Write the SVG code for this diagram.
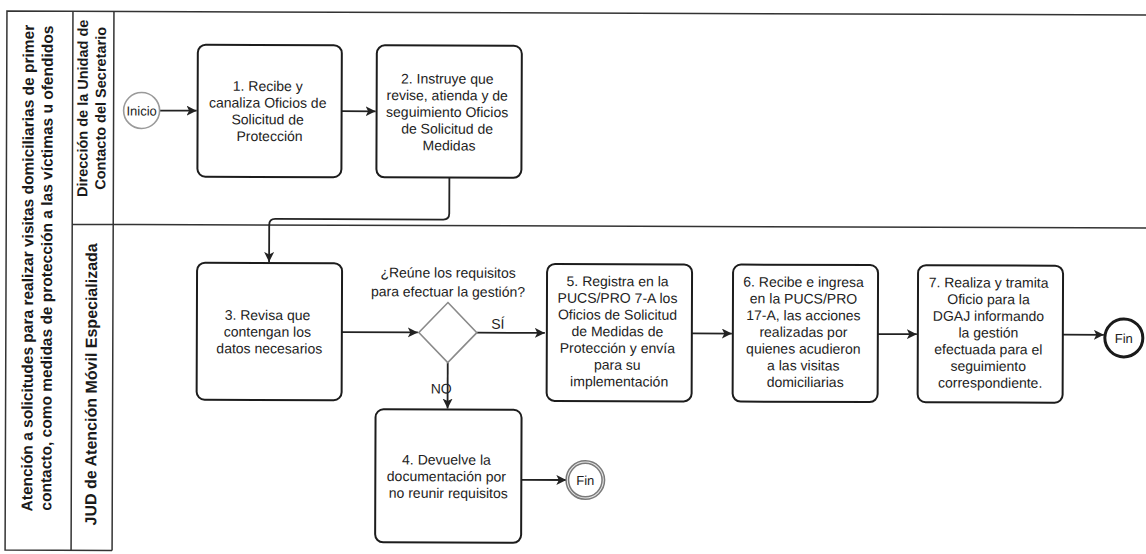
<svg xmlns="http://www.w3.org/2000/svg" width="1146" height="554" viewBox="0 0 1146 554">
  <style>
    .frame { fill: none; stroke: #333; stroke-width: 1.5; }
    .task { fill: #fff; stroke: #1c1c1c; stroke-width: 2; }
    .gate { fill: #fff; stroke: #8a8a8a; stroke-width: 1.6; }
    .flow { fill: none; stroke: #222; stroke-width: 1.8; }
    .txt { font-family: "Liberation Sans", Arial, sans-serif; font-size: 14px; fill: #222; text-anchor: middle; }
    .lbl { font-family: "Liberation Sans", Arial, sans-serif; font-size: 14px; font-weight: bold; fill: #1a1a1a; text-anchor: middle; }
    .ev { font-family: "Liberation Sans", Arial, sans-serif; font-size: 13px; fill: #222; text-anchor: middle; }
  </style>
  <defs>
    <marker id="arrow" markerUnits="userSpaceOnUse" markerWidth="12" markerHeight="12" refX="10" refY="5" orient="auto">
      <path d="M0,0 L10,5 L0,10 L2.5,5 z" fill="#222"/>
    </marker>
  </defs>
  <rect width="1146" height="554" fill="#fff"/>

  <g transform="rotate(0.2)">
    <!-- pool and lane frame -->
    <g id="pool">
      <path class="frame" d="M1150,11 H7 V550 H114"/>
      <path class="frame" d="M73,11 V550 M114,11 V550 M73,224 H1150"/>
      <text class="lbl" style="font-size:15.5px" transform="translate(34,268) rotate(-90)">Atención a solicitudes para realizar visitas domiciliarias de primer</text>
      <text class="lbl" style="font-size:15.5px" transform="translate(53,268) rotate(-90)">contacto, como medidas de protección a las víctimas u ofendidos</text>
    </g>
    <g id="lane-direccion">
      <text class="lbl" style="font-size:14.5px" transform="translate(88,108) rotate(-90)">Dirección de la Unidad de</text>
      <text class="lbl" style="font-size:14.5px" transform="translate(106,108) rotate(-90)">Contacto del Secretario</text>
    </g>
    <g id="lane-jud">
      <text class="lbl" style="font-size:16px" transform="translate(98,384) rotate(-90)">JUD de Atención Móvil Especializada</text>
    </g>

    <!-- connectors -->
    <g id="connectors">
      <path class="flow" d="M160,110 H197" marker-end="url(#arrow)"/>
      <path class="flow" d="M342,110 H376" marker-end="url(#arrow)"/>
      <path class="flow" d="M450,176 V212 Q450,218 444,218 H276 Q270,218 270,224 V261" marker-end="url(#arrow)"/>
      <path class="flow" d="M343,331 H419" marker-end="url(#arrow)"/>
      <path class="flow" d="M478,331 H546" marker-end="url(#arrow)"/>
      <path class="flow" d="M449,361 V407" marker-end="url(#arrow)"/>
      <path class="flow" d="M523,478 H568" marker-end="url(#arrow)"/>
      <path class="flow" d="M693,331 H733" marker-end="url(#arrow)"/>
      <path class="flow" d="M879,331 H918" marker-end="url(#arrow)"/>
      <path class="flow" d="M1064,331 H1105" marker-end="url(#arrow)"/>
      <text class="txt" x="499" y="327">SÍ</text>
      <text class="txt" x="453" y="392" style="text-anchor:end">NO</text>
    </g>

    <!-- start event -->
    <g id="inicio">
      <circle cx="142" cy="110" r="18" fill="#fff" stroke="#9a9a9a" stroke-width="1.6"/>
      <text class="ev" x="142" y="115">Inicio</text>
    </g>

    <g id="task-1">
      <rect class="task" x="198" y="44" width="144" height="132" rx="8"/>
      <text class="txt" y="90">
        <tspan x="270">1. Recibe y</tspan>
        <tspan x="270" dy="16.7">canaliza Oficios de</tspan>
        <tspan x="270" dy="16.7">Solicitud de</tspan>
        <tspan x="270" dy="16.7">Protección</tspan>
      </text>
    </g>

    <g id="task-2">
      <rect class="task" x="377" y="44" width="145" height="132" rx="8"/>
      <text class="txt" y="82">
        <tspan x="449.5">2. Instruye que</tspan>
        <tspan x="449.5" dy="16.7">revise, atienda y de</tspan>
        <tspan x="449.5" dy="16.7">seguimiento Oficios</tspan>
        <tspan x="449.5" dy="16.7">de Solicitud de</tspan>
        <tspan x="449.5" dy="16.7">Medidas</tspan>
      </text>
    </g>

    <g id="task-3">
      <rect class="task" x="198" y="262" width="145" height="137" rx="8"/>
      <text class="txt" y="319">
        <tspan x="270.5">3. Revisa que</tspan>
        <tspan x="270.5" dy="16.7">contengan los</tspan>
        <tspan x="270.5" dy="16.7">datos necesarios</tspan>
      </text>
    </g>

    <g id="gateway">
      <text class="txt" y="276">
        <tspan x="451">¿Reúne los requisitos</tspan>
        <tspan x="449" dy="19">para efectuar la gestión?</tspan>
      </text>
      <path class="gate" d="M449,301 L478,331 L449,361 L420,331 z"/>
    </g>

    <g id="task-4">
      <rect class="task" x="377" y="408" width="146" height="133" rx="8"/>
      <text class="txt" y="463">
        <tspan x="450">4. Devuelve la</tspan>
        <tspan x="450" dy="16.7">documentación por</tspan>
        <tspan x="450" dy="16.7">no reunir requisitos</tspan>
      </text>
    </g>

    <g id="fin-1">
      <circle cx="587" cy="478" r="18" fill="#fff" stroke="#7a7a7a" stroke-width="4"/>
      <circle cx="587" cy="478" r="18" fill="none" stroke="#e8e8e8" stroke-width="1"/>
      <text class="ev" x="587" y="483">Fin</text>
    </g>

    <g id="task-5">
      <rect class="task" x="548" y="262" width="145" height="137" rx="8"/>
      <text class="txt" y="284">
        <tspan x="620.5">5. Registra en la</tspan>
        <tspan x="620.5" dy="16.7">PUCS/PRO 7-A los</tspan>
        <tspan x="620.5" dy="16.7">Oficios de Solicitud</tspan>
        <tspan x="620.5" dy="16.7">de Medidas de</tspan>
        <tspan x="620.5" dy="16.7">Protección y envía</tspan>
        <tspan x="620.5" dy="16.7">para su</tspan>
        <tspan x="620.5" dy="16.7">implementación</tspan>
      </text>
    </g>

    <g id="task-6">
      <rect class="task" x="734" y="262" width="145" height="137" rx="8"/>
      <text class="txt" y="284">
        <tspan x="806.5">6. Recibe e ingresa</tspan>
        <tspan x="806.5" dy="16.7">en la PUCS/PRO</tspan>
        <tspan x="806.5" dy="16.7">17-A, las acciones</tspan>
        <tspan x="806.5" dy="16.7">realizadas por</tspan>
        <tspan x="806.5" dy="16.7">quienes acudieron</tspan>
        <tspan x="806.5" dy="16.7">a las visitas</tspan>
        <tspan x="806.5" dy="16.7">domiciliarias</tspan>
      </text>
    </g>

    <g id="task-7">
      <rect class="task" x="919" y="262" width="145" height="137" rx="8"/>
      <text class="txt" y="284">
        <tspan x="991.5">7. Realiza y tramita</tspan>
        <tspan x="991.5" dy="16.7">Oficio para la</tspan>
        <tspan x="991.5" dy="16.7">DGAJ informando</tspan>
        <tspan x="991.5" dy="16.7">la gestión</tspan>
        <tspan x="991.5" dy="16.7">efectuada para el</tspan>
        <tspan x="991.5" dy="16.7">seguimiento</tspan>
        <tspan x="991.5" dy="16.7">correspondiente.</tspan>
      </text>
    </g>

    <g id="fin-2">
      <circle cx="1125" cy="334" r="19" fill="#fff" stroke="#1a1a1a" stroke-width="3"/>
      <text class="ev" x="1125" y="339">Fin</text>
    </g>
  </g>
</svg>
